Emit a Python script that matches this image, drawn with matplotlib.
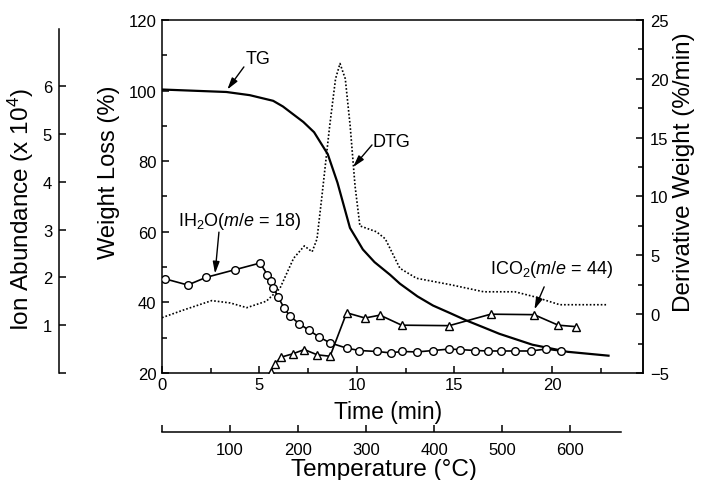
import numpy as np
import matplotlib.pyplot as plt
from matplotlib.ticker import MultipleLocator

plt.rcParams['font.family'] = ['Liberation Sans', 'DejaVu Sans']
plt.rcParams['mathtext.fontset'] = 'custom'
plt.rcParams['mathtext.rm'] = 'Liberation Sans'
plt.rcParams['mathtext.it'] = 'Liberation Sans:italic'

# TG curve, weight loss (%) against time (min)
tg_time = [0.0, 3.3, 4.5, 5.7, 6.2, 6.7, 7.25, 7.8, 8.5, 9.0, 9.64, 10.0, 10.3, 10.9, 11.7, 12.2,
           13.1, 13.9, 14.8, 15.6, 16.5, 17.3, 19.0, 20.8, 22.9]
tg_weight = [100.3, 99.6, 98.7, 97.1, 95.5, 93.4, 91.1, 88.2, 82.0, 73.9, 61.1, 57.8, 55.0, 51.4,
             47.8, 45.3, 41.7, 39.1, 36.9, 34.9, 32.9, 31.1, 28.0, 26.0, 24.9]

# DTG curve, derivative weight (%/min)
dtg_time = [0.0, 1.1, 2.55, 3.5, 4.35, 5.35, 6.05, 6.75, 7.3, 7.7, 7.95, 8.2, 8.6, 8.9, 9.13,
            9.4, 9.65, 9.9, 10.15, 11.0, 11.45, 12.2, 13.05, 14.8, 16.5, 18.1, 19.05, 20.4, 22.8]
dtg_value = [-0.3, 0.35, 1.15, 0.95, 0.55, 1.1, 2.2, 4.75, 5.8, 5.3, 6.4, 10.0, 16.0, 20.0, 21.3,
             20.0, 16.0, 10.9, 7.5, 7.0, 6.4, 3.9, 3.05, 2.5, 1.9, 1.9, 1.5, 0.8, 0.8]

# ion abundance (x 10^4), H2O m/e = 18
h2o_time = [0.15, 1.32, 2.26, 3.74, 5.03, 5.40, 5.58, 5.71, 5.97, 6.26, 6.56, 7.04, 7.55, 8.07,
            8.62, 9.47, 10.12, 11.01, 11.73, 12.3, 13.06, 13.91, 14.73, 15.28, 16.05, 16.73,
            17.38, 18.10, 18.92, 19.68, 20.46]
h2o_ion = [1.97, 1.84, 2.0, 2.16, 2.30, 2.06, 1.92, 1.78, 1.58, 1.36, 1.19, 1.03, 0.89, 0.75,
           0.63, 0.52, 0.47, 0.45, 0.42, 0.45, 0.44, 0.47, 0.50, 0.49, 0.47, 0.46,
           0.46, 0.46, 0.46, 0.50, 0.46]

# ion abundance (x 10^4), CO2 m/e = 44
co2_time = [5.57, 5.79, 6.10, 6.70, 7.30, 7.96, 8.62, 9.47, 10.41, 11.18, 12.29, 14.73,
            16.86, 19.08, 20.32, 21.21]
co2_ion = [0.02, 0.19, 0.33, 0.40, 0.49, 0.38, 0.35, 1.26, 1.15, 1.21, 1.0, 0.99,
           1.23, 1.22, 1.0, 0.97]

temp_ticks = [0, 100, 200, 300, 400, 500, 600]
temp_labels = ['', '100', '200', '300', '400', '500', '600']

lw_ax = 1.1
fs_tick = 12
fs_note = 13
fig = plt.figure(figsize=(7.01, 4.81), dpi=100)
ax = fig.add_axes([0.2311, 0.2225, 0.6862, 0.7339])
axr = ax.twinx()
axi = ax.twinx()

# TG on weight axis
ax.plot(tg_time, tg_weight, color='black', linewidth=1.6)
ax.set_xlim(0, 24.67)
ax.set_ylim(20, 120)
ax.xaxis.set_major_locator(MultipleLocator(5))
ax.xaxis.set_minor_locator(MultipleLocator(2.5))
ax.yaxis.set_major_locator(MultipleLocator(20))
ax.yaxis.set_minor_locator(MultipleLocator(10))
ax.tick_params(which='both', direction='in', top=False, right=False, width=lw_ax, labelsize=fs_tick)
ax.tick_params(which='major', length=5)
ax.tick_params(which='minor', length=3.5)
ax.tick_params(axis='x', pad=3)
ax.tick_params(axis='y', pad=4)
for s in ax.spines.values():
    s.set_linewidth(lw_ax)
ax.set_xlabel('Time (min)', fontsize=16.5, labelpad=6)
ax.xaxis.label.set_x(0.47)
ax.set_ylabel('Weight Loss (%)', fontsize=17)
ax.yaxis.set_label_coords(-0.088, 0.572)

# DTG on right axis
axr.plot(dtg_time, dtg_value, color='black', linewidth=1.2, linestyle=(0, (1, 1.2)))
axr.set_ylim(-5, 25)
axr.yaxis.set_major_locator(MultipleLocator(5))
axr.yaxis.set_minor_locator(MultipleLocator(2.5))
axr.tick_params(which='both', direction='in', width=lw_ax, labelsize=fs_tick, pad=5)
axr.tick_params(which='major', length=5)
axr.tick_params(which='minor', length=3.5)
for s in ['left', 'top', 'bottom']:
    axr.spines[s].set_visible(False)
axr.spines['right'].set_linewidth(lw_ax)
axr.set_ylabel('Derivative Weight (%/min)', fontsize=17.5)
axr.yaxis.set_label_coords(1.062, 0.572)

# ion abundance on the offset left axis
axi.plot(h2o_time, h2o_ion, color='black', linewidth=1.2, marker='o', markersize=5.5,
         markerfacecolor='white', markeredgecolor='black', markeredgewidth=1.0)
axi.plot(co2_time, co2_ion, color='black', linewidth=1.2, marker='^', markersize=6,
         markerfacecolor='white', markeredgecolor='black', markeredgewidth=1.0)
axi.set_ylim(0, 7.385)
axi.yaxis.set_ticks_position('left')
axi.yaxis.set_label_position('left')
axi.spines['left'].set_visible(True)
axi.spines['left'].set_position(('axes', -0.214))
axi.spines['left'].set_bounds(0, 7.2)
axi.spines['left'].set_linewidth(lw_ax)
for s in ['right', 'top', 'bottom']:
    axi.spines[s].set_visible(False)
axi.set_yticks([0, 1, 2, 3, 4, 5, 6])
axi.set_yticklabels(['', '1', '2', '3', '4', '5', '6'])
axi.tick_params(direction='in', length=5, width=lw_ax, labelsize=fs_tick, pad=5)
axi.set_ylabel('Ion Abundance (x 10$^4$)', fontsize=17.5)
axi.yaxis.set_label_coords(-0.262, 0.465)

# temperature scale below
axt = fig.add_axes([0.2311, 48 / 481, 0.6862, 0.02])
axt.patch.set_visible(False)
for s in ['left', 'right', 'top']:
    axt.spines[s].set_visible(False)
axt.spines['bottom'].set_linewidth(lw_ax)
axt.set_yticks([])
axt.set_xlim(0, 707)
axt.spines['bottom'].set_bounds(0, 675)
axt.set_xticks(temp_ticks)
axt.set_xticklabels(temp_labels)
axt.tick_params(direction='in', length=5, width=lw_ax, labelsize=fs_tick, pad=7)
axt.set_xlabel('Temperature (°C)', fontsize=17.5, labelpad=1)
axt.xaxis.label.set_x(0.462)

# labels and arrows
arrow = dict(arrowstyle='-|>,head_length=0.7,head_width=0.2', color='black', linewidth=1.0,
             shrinkA=0, shrinkB=0)
ax.text(4.92, 109.0, 'TG', fontsize=fs_note, ha='center', va='center')
ax.annotate('', xy=(3.35, 100.3), xytext=(4.2, 106.7), arrowprops=arrow)
ax.text(10.82, 85.7, 'DTG', fontsize=fs_note, ha='left', va='center')
ax.annotate('', xy=(9.8, 12.5), xycoords=axr.transData, xytext=(10.77, 84.6),
            textcoords=ax.transData, arrowprops=arrow)
ax.text(0.82, 63.1, 'IH$_2$O($m/e$ = 18)', fontsize=fs_note, ha='left', va='center')
ax.annotate('', xy=(2.72, 2.08), xycoords=axi.transData, xytext=(2.92, 59.9),
            textcoords=ax.transData, arrowprops=arrow)
ax.text(16.82, 49.5, 'ICO$_2$($m/e$ = 44)', fontsize=fs_note, ha='left', va='center')
ax.annotate('', xy=(19.1, 1.33), xycoords=axi.transData, xytext=(19.6, 44.4),
            textcoords=ax.transData, arrowprops=arrow)

plt.savefig('out.png', dpi=100)
plt.close()
